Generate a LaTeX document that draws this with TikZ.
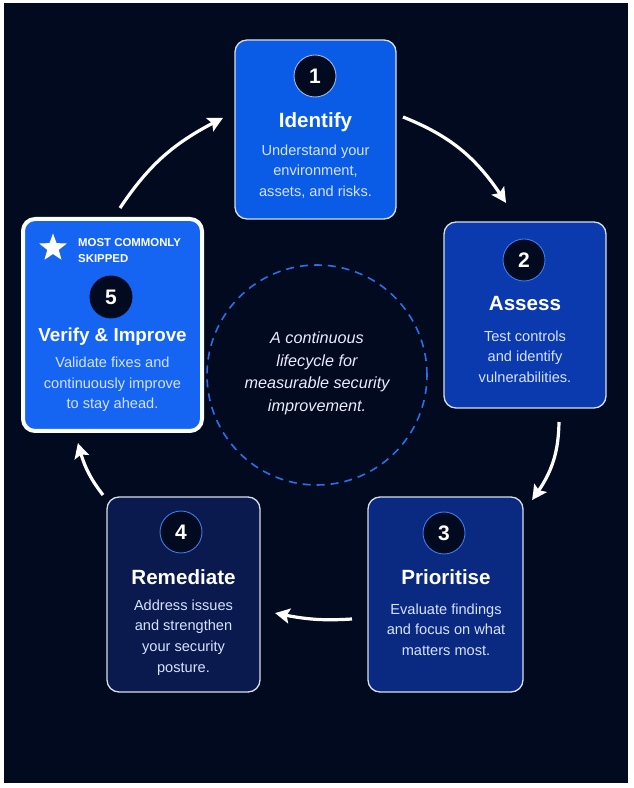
\documentclass[tikz,border=0pt]{standalone}
\usepackage{fontspec}
\setmainfont{Liberation Sans}
\usetikzlibrary{shapes.geometric,arrows.meta,bending}
\definecolor{bg}{HTML}{020A20}
\definecolor{fillA}{HTML}{0A5CE6}
\definecolor{fillB}{HTML}{0A3AAE}
\definecolor{fillC}{HTML}{0A2A82}
\definecolor{fillD}{HTML}{0A1A4E}
\definecolor{fillE}{HTML}{1565F2}
\definecolor{desccol}{HTML}{D6E2FF}
\definecolor{ringcol}{HTML}{3B7BEB}
\definecolor{dashcol}{HTML}{2A6FE8}
\definecolor{edgecol}{HTML}{D8DEE8}
\tikzset{
  stagebox/.style={rectangle, rounded corners=12pt, inner sep=0pt, draw=edgecol, line width=1.3pt},
  numcircle/.style={circle, minimum size=42pt, inner sep=0pt, fill=bg, draw=ringcol, line width=0.9pt,
    text=white, font=\fontsize{21}{23}\selectfont\bfseries},
  titletext/.style={text=white, font=\fontsize{20.6}{23}\selectfont\bfseries, inner sep=0pt},
  desctext/.style={text=desccol, font=\fontsize{14.6}{20.7}\selectfont, align=center, inner sep=0pt},
  flowarrow/.style={draw=white, line width=3.2pt, -{Stealth[length=15pt,width=15pt,inset=3pt,bend]}}
}
\begin{document}
\begin{tikzpicture}[x=1pt,y=1pt]
\useasboundingbox (0,0) rectangle (634,788);
\fill[white] (0,0) rectangle (634,788);
\fill[bg] (4,5) rectangle (628,785);

% central dashed circle
\node[circle, minimum size=220pt, inner sep=0pt, draw=dashcol, line width=1.6pt,
  dash pattern=on 8pt off 6pt] (hub) at (317,413) {};
\node[text=white!92!blue, font=\fontsize{16.2}{22.5}\selectfont\itshape, align=center, inner sep=0pt]
  (hubtext) at (317,414.5) {A continuous\\lifecycle for\\measurable security\\improvement.};

% Box 1
\node[stagebox, fill=fillA, minimum width=161pt, minimum height=179pt] (b1) at (315.5,658.5) {};
\node[numcircle, draw=edgecol!70!fillA] (n1) at (315,712) {1};
\node[titletext] (t1) at (315.5,666) {Identify};
\node[desctext] (d1) at (315.5,616.5) {Understand your\\environment,\\assets, and risks.};

% Box 2
\node[stagebox, fill=fillB, minimum width=162pt, minimum height=186pt] (b2) at (525,473) {};
\node[numcircle] (n2) at (524,528) {2};
\node[titletext] (t2) at (525,484) {Assess};
\node[desctext] (d2) at (525,431.5) {Test controls\\and identify\\vulnerabilities.};

% Box 3
\node[stagebox, fill=fillC, minimum width=155pt, minimum height=195pt] (b3) at (445.5,193.5) {};
\node[numcircle] (n3) at (444,255) {3};
\node[titletext] (t3) at (446,211) {Prioritise};
\node[desctext] (d3) at (446,158.5) {Evaluate findings\\and focus on what\\matters most.};

% Box 4
\node[stagebox, fill=fillD, minimum width=153pt, minimum height=195pt] (b4) at (183.5,193.5) {};
\node[numcircle] (n4) at (181,256) {4};
\node[titletext] (t4) at (183.5,211) {Remediate};
\node[desctext] (d4) at (183.5,150.5) {Address issues\\and strengthen\\your security\\posture.};

% Box 5
\node[stagebox, fill=fillE, draw=white, line width=4pt, minimum width=179pt, minimum height=212pt] (b5) at (112.5,463) {};
\node[star, star points=5, star point ratio=2.4, fill=white, minimum size=29pt, inner sep=0pt] (st) at (53,540) {};
\node[anchor=west, text=white, font=\fontsize{11.4}{16}\selectfont\bfseries, align=left, inner sep=0pt]
  (skip) at (78,537) {MOST COMMONLY\\SKIPPED};
\node[numcircle, draw=bg] (n5) at (111,491) {5};
\node[titletext, font=\fontsize{18.8}{22}\selectfont\bfseries] (t5) at (112.5,451) {Verify \& Improve};
\node[desctext] (d5) at (112.5,403.5) {Validate fixes and\\continuously improve\\to stay ahead.};

% arrow end points
\coordinate (a12s) at (403,671);
\coordinate (a12e) at (506,585);
\coordinate (a23s) at (559,366);
\coordinate (a23e) at (532,288);
\coordinate (a34s) at (352,169);
\coordinate (a34e) at (275,175);
\coordinate (a45s) at (103,293);
\coordinate (a45e) at (78,345);
\coordinate (a51s) at (120,580);
\coordinate (a51e) at (223,670);

\draw[flowarrow] (a12s) to[bend left=18] (a12e);
\draw[flowarrow] (a23s) to[bend left=18] (a23e);
\draw[flowarrow] (a34s) to[bend left=8] (a34e);
\draw[flowarrow] (a45s) to[bend left=12] (a45e);
\draw[flowarrow] (a51s) to[bend left=15] (a51e);
\end{tikzpicture}
\end{document}
